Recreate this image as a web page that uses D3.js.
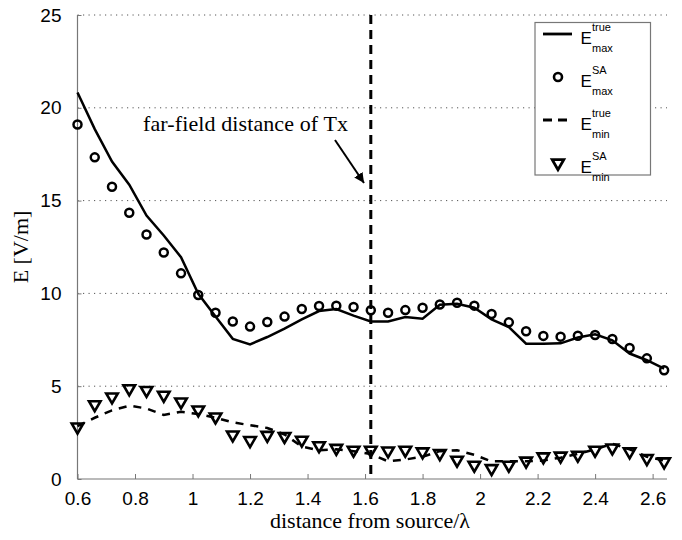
<!DOCTYPE html>
<html><head><meta charset="utf-8">
<script src="https://cdn.jsdelivr.net/npm/d3@7"></script>
<style>body{margin:0;background:#fff}svg{display:block}</style>
</head><body>
<svg id="c" width="682" height="540"></svg>
<script>
const distance = [0.60,0.66,0.72,0.78,0.84,0.90,0.96,1.02,1.08,1.14,1.20,1.26,1.32,1.38,1.44,1.50,1.56,1.62,1.68,1.74,1.80,1.86,1.92,1.98,2.04,2.10,2.16,2.22,2.28,2.34,2.40,2.46,2.52,2.58,2.64];
const eMaxTrue = [20.82,18.85,17.1,15.86,14.19,13.12,11.95,9.98,8.75,7.55,7.25,7.65,8.1,8.6,9.05,9.16,8.8,8.49,8.49,8.73,8.64,9.39,9.44,9.23,8.6,8.19,7.29,7.29,7.31,7.62,7.8,7.47,6.76,6.4,5.95];
const eMaxSA = [19.1,17.33,15.75,14.35,13.17,12.2,11.08,9.91,8.96,8.49,8.21,8.46,8.75,9.16,9.32,9.34,9.27,9.09,8.96,9.1,9.23,9.4,9.5,9.34,8.89,8.44,7.96,7.71,7.67,7.72,7.76,7.54,7.06,6.5,5.86];
const eMinTrue = [2.85,3.3,3.7,3.95,3.8,3.45,3.62,3.5,3.3,3.05,2.9,2.75,2.4,1.75,1.55,1.6,1.5,1.35,0.95,1.05,1.2,1.5,1.55,1.3,0.95,0.95,0.95,1.0,1.15,1.35,1.6,1.9,1.6,1.2,1.0];
const eMinSA = [2.81,4.01,4.43,4.87,4.78,4.52,4.16,3.73,3.35,2.38,2.08,2.36,2.3,2.1,1.8,1.66,1.56,1.56,1.52,1.56,1.47,1.38,1.02,0.75,0.57,0.75,0.97,1.2,1.24,1.29,1.56,1.68,1.47,1.11,0.93];
const xTicks = [0.6,0.8,1,1.2,1.4,1.6,1.8,2,2.2,2.4,2.6];
const yTicks = [0,5,10,15,20,25];
const farField = 1.62;

const svg = d3.select("#c");
const x = d3.scaleLinear().domain([0.6,2.65]).range([77.5,667]);
const y = d3.scaleLinear().domain([0,25]).range([479,15]);
const serif = "'Liberation Serif','Times New Roman',serif";
const sans = "'Liberation Sans',Arial,sans-serif";

// grid
svg.append("g").selectAll("line").data(yTicks.filter(d=>d>0)).join("line")
  .attr("x1",x(0.6)).attr("x2",x(2.65)).attr("y1",d=>y(d)).attr("y2",d=>y(d))
  .attr("stroke","#555").attr("stroke-width",1).attr("stroke-dasharray","1.2,4.3");

// axes
const xAxis = svg.append("g").attr("transform",`translate(0,${y(0)})`)
  .call(d3.axisBottom(x).tickValues(xTicks).tickSize(-5).tickFormat(d3.format("")));
const yAxis = svg.append("g").attr("transform",`translate(${x(0.6)},0)`)
  .call(d3.axisLeft(y).tickValues(yTicks).tickSize(-4).tickFormat(d3.format("")));
[xAxis,yAxis].forEach(a=>{
  a.select(".domain").attr("stroke","#777").attr("stroke-width",1.2);
  a.selectAll(".tick line").attr("stroke","#777");
  a.selectAll("text").attr("font-family",sans).attr("font-size",19).attr("fill","#000");
});
xAxis.select(".domain").attr("d",`M${x(0.6)},0H${x(2.65)}`);
yAxis.select(".domain").attr("d",`M0,${y(0)}V${y(25)}`);
xAxis.selectAll("text").attr("y",13);
yAxis.selectAll("text").attr("x",-16);

// far field line
svg.append("line").attr("x1",x(farField)).attr("x2",x(farField)).attr("y1",y(25)).attr("y2",y(0))
  .attr("stroke","#000").attr("stroke-width",3).attr("stroke-dasharray","9,6");

const pts = (arr)=>arr.map((v,i)=>[distance[i],v]);
const line = d3.line().x(d=>x(d[0])).y(d=>y(d[1]));

svg.append("path").attr("d",line(pts(eMaxTrue))).attr("fill","none").attr("stroke","#000").attr("stroke-width",2.5);
svg.append("path").attr("d",line(pts(eMinTrue))).attr("fill","none").attr("stroke","#000").attr("stroke-width",2.5).attr("stroke-dasharray","8,7");

svg.append("g").selectAll("circle").data(pts(eMaxSA)).join("circle")
  .attr("cx",d=>x(d[0])).attr("cy",d=>y(d[1])).attr("r",4)
  .attr("fill","none").attr("stroke","#000").attr("stroke-width",2.5);

const tri = d3.symbol().type(d3.symbolTriangle).size(58);
svg.append("g").selectAll("path").data(pts(eMinSA)).join("path")
  .attr("d",tri).attr("transform",d=>`translate(${x(d[0])},${y(d[1])}) rotate(180)`)
  .attr("fill","none").attr("stroke","#000").attr("stroke-width",2.6);

// annotation
svg.append("defs").append("marker").attr("id","ah").attr("viewBox","0 0 10 10")
  .attr("refX",10).attr("refY",5).attr("markerWidth",5).attr("markerHeight",5)
  .attr("orient","auto").attr("markerUnits","strokeWidth")
  .append("path").attr("d","M0,0L10,5L0,10z").attr("fill","#000");
svg.append("line").attr("x1",335).attr("y1",140).attr("x2",364).attr("y2",183)
  .attr("stroke","#000").attr("stroke-width",2).attr("marker-end","url(#ah)");
svg.append("text").attr("x",143).attr("y",131).attr("font-family",serif).attr("font-size",22).attr("textLength",205).text("far-field distance of Tx");

// axis labels
svg.append("text").attr("x",370).attr("y",528).attr("text-anchor","middle").attr("font-family",serif).attr("font-size",22).text("distance from source/λ");
svg.append("text").attr("transform","translate(28,247) rotate(-90)").attr("text-anchor","middle").attr("font-family",serif).attr("font-size",22).text("E [V/m]");

// legend
const leg = svg.append("g");
leg.append("rect").attr("x",535).attr("y",22.5).attr("width",115.5).attr("height",152.5).attr("fill","#fff").attr("stroke","#777").attr("stroke-width",1.2);
const items = [
  {sup:"true",sub:"max",kind:"solid"},
  {sup:"SA",sub:"max",kind:"circle"},
  {sup:"true",sub:"min",kind:"dash"},
  {sup:"SA",sub:"min",kind:"tri"}
];
items.forEach((it,i)=>{
  const cy = 34 + 43*i;
  if(it.kind==="solid") leg.append("line").attr("x1",543).attr("x2",572).attr("y1",cy).attr("y2",cy).attr("stroke","#000").attr("stroke-width",2.8);
  if(it.kind==="dash") leg.append("line").attr("x1",543).attr("x2",572).attr("y1",cy).attr("y2",cy).attr("stroke","#000").attr("stroke-width",2.8).attr("stroke-dasharray","9,6");
  if(it.kind==="circle") leg.append("circle").attr("cx",558).attr("cy",cy).attr("r",4).attr("fill","none").attr("stroke","#000").attr("stroke-width",2.6);
  if(it.kind==="tri") leg.append("path").attr("d",tri).attr("transform",`translate(558,${cy}) rotate(180)`).attr("fill","none").attr("stroke","#000").attr("stroke-width",2.8);
  leg.append("text").attr("x",580.5).attr("y",cy+9.5).attr("font-family",sans).attr("font-size",17).text("E");
  leg.append("text").attr("x",592).attr("y",cy-3).attr("font-family",sans).attr("font-size",11).text(it.sup);
  leg.append("text").attr("x",592).attr("y",cy+17.5).attr("font-family",sans).attr("font-size",11).text(it.sub);
});
</script>
</body></html>
